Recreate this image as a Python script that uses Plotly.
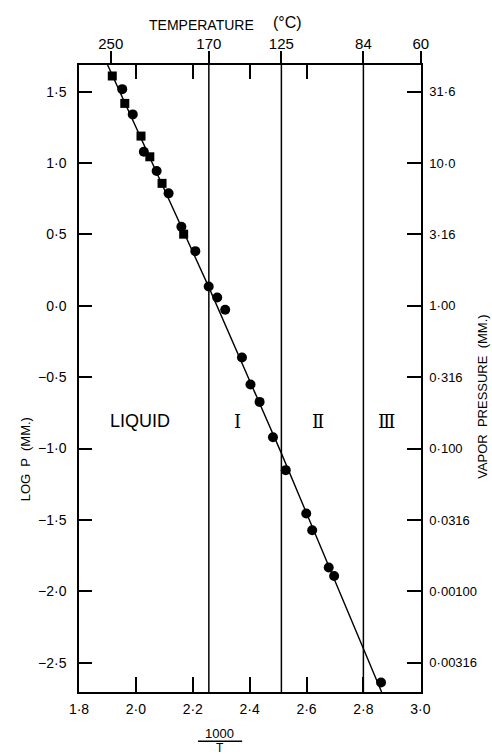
import plotly.graph_objects as go

# ---- data ----
circ_x = [1.952, 1.989, 2.028, 2.073, 2.115, 2.160, 2.209, 2.256, 2.286, 2.314,
          2.373, 2.403, 2.435, 2.482, 2.527, 2.599, 2.620, 2.678, 2.697, 2.862]
circ_y = [1.518, 1.341, 1.079, 0.944, 0.788, 0.554, 0.383, 0.136, 0.058, -0.028,
          -0.362, -0.551, -0.673, -0.920, -1.151, -1.455, -1.572, -1.833, -1.892, -2.638]
sq_x = [1.917, 1.961, 2.018, 2.049, 2.092, 2.168]
sq_y = [1.610, 1.418, 1.189, 1.044, 0.858, 0.502]
fit_x = [1.90, 2.256, 2.511, 2.80, 2.864]
fit_y = [1.69, 0.133, -1.03, -2.40, -2.705]

x_ticks = [1.8, 2.0, 2.2, 2.4, 2.6, 2.8, 3.0]
x_labels = ["1·8", "2·0", "2·2", "2·4", "2·6", "2·8", "3·0"]
x_minor = [2.0, 2.2, 2.4, 2.6]
temp_ticks = [250, 170, 125, 84, 60]
temp_labels = ["250", "170", "125", "84", "60"]
phase_temps = [170, 125, 84]
y_ticks = [-2.5, -2.0, -1.5, -1.0, -0.5, 0.0, 0.5, 1.0, 1.5]
y_labels = ["−2·5", "−2·0", "−1·5", "−1·0", "−0·5", "0·0", "0·5", "1·0", "1·5"]
p_labels = ["0·00316", "0·00100", "0·0316", "0·100", "0·316", "1·00", "3·16", "10·0", "31·6"]

inv = lambda t: 1000.0 / (t + 273.15)
temp_pos = [inv(t) for t in temp_ticks]
phase_pos = [inv(t) for t in phase_temps]

XR = [1.8, 3.0025]
YR = [-2.705, 1.687]
FONT = "Liberation Sans, Arial, sans-serif"

fig = go.Figure()
fig.add_trace(go.Scatter(x=fit_x, y=fit_y, mode="lines",
                         line=dict(color="black", width=1.4), showlegend=False))
fig.add_trace(go.Scatter(x=circ_x, y=circ_y, mode="markers",
                         marker=dict(symbol="circle", size=10, color="black"), showlegend=False))
fig.add_trace(go.Scatter(x=sq_x, y=sq_y, mode="markers",
                         marker=dict(symbol="square", size=9, color="black"), showlegend=False))
# invisible traces to activate secondary axes
fig.add_trace(go.Scatter(x=[XR[0]], y=[YR[0]], xaxis="x2", yaxis="y2", mode="markers",
                         marker=dict(opacity=0), showlegend=False, hoverinfo="skip"))
fig.add_trace(go.Scatter(x=[XR[0]], y=[YR[0]], xaxis="x3", yaxis="y", mode="markers",
                         marker=dict(opacity=0), showlegend=False, hoverinfo="skip"))

for xp in phase_pos:
    fig.add_shape(type="line", x0=xp, x1=xp, y0=0, y1=1, xref="x", yref="paper",
                  line=dict(color="black", width=1.5))

def axis_common(size=14):
    return dict(showgrid=False, zeroline=False, showline=True, linecolor="black",
                linewidth=1.5, tickcolor="black", tickwidth=1.5,
                tickfont=dict(family=FONT, size=size, color="black"))

fig.update_layout(
    width=492, height=755,
    margin=dict(l=79, r=71, t=65, b=63),
    paper_bgcolor="white", plot_bgcolor="white",
    xaxis=dict(range=XR, tickvals=x_ticks, ticktext=x_labels, ticks="inside", ticklen=15,
               side="bottom", ticklabelstandoff=3, **axis_common(14)),
    xaxis2=dict(range=XR, overlaying="x", side="top", anchor="y", tickvals=temp_pos,
                ticktext=temp_labels, ticks="outside", ticklen=12, ticklabelstandoff=-4,
                **axis_common(15)),
    xaxis3=dict(range=XR, overlaying="x", side="top", anchor="y", tickvals=x_minor,
                showticklabels=False, ticks="inside", ticklen=14, showgrid=False,
                zeroline=False, showline=False, tickcolor="black", tickwidth=1.5),
    yaxis=dict(range=YR, tickvals=y_ticks, ticktext=y_labels, ticks="inside", ticklen=13,
               ticklabelstandoff=8, **axis_common(14)),
    yaxis2=dict(range=YR, overlaying="y", side="right", anchor="x", tickvals=y_ticks,
                ticktext=p_labels, ticks="inside", ticklen=14, ticklabelstandoff=4,
                **axis_common(13)),
)

def ann(text, x, y, xref="paper", yref="paper", size=14, angle=0, family=FONT):
    fig.add_annotation(text=text, x=x, y=y, xref=xref, yref=yref, showarrow=False,
                       textangle=angle, font=dict(family=family, size=size, color="black"),
                       xanchor="center", yanchor="middle")

ann("TEMPERATURE", 0.357, 1.064, size=14)
ann("(°C)", 0.611, 1.068, size=16)
ann("LIQUID", 2.014, -0.81, xref="x", yref="y", size=18)
ann("Ⅰ", 2.359, -0.81, xref="x", yref="y", size=18, family="DejaVu Serif")
ann("Ⅱ", 2.640, -0.81, xref="x", yref="y", size=18, family="DejaVu Serif")
ann("Ⅲ", 2.880, -0.81, xref="x", yref="y", size=18, family="DejaVu Serif")
ann("LOG  P  (MM.)", -0.158, 0.371, size=13, angle=-90)
ann("VAPOR  PRESSURE  (MM.)", 1.180, 0.47, size=13, angle=-90)
ann("1000", 0.412, -0.066, size=13)
ann("T", 0.412, -0.089, size=12)
fig.add_shape(type="line", x0=0.348, x1=0.477, y0=-0.0785, y1=-0.0785, xref="paper",
              yref="paper", line=dict(color="black", width=1.5))

fig.write_html("out.html", post_script="document.body.style.margin='0';",
               config={"displayModeBar": False})
